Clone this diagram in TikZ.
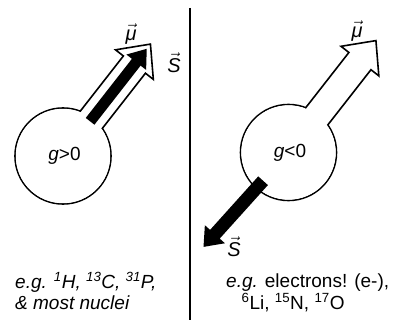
\documentclass[tikz,border=0pt]{standalone}
\usepackage{fontspec}
\setmainfont{Liberation Sans}
\tikzset{
  outl/.style={line width=1.6pt, draw=black, fill=white, line join=miter},
  lbl/.style={inner sep=0pt, font=\fontsize{20}{22}\selectfont},
  txt/.style={inner sep=0pt, anchor=base west, font=\fontsize{19}{20}\selectfont},
  gtxt/.style={inner sep=0pt, anchor=base, font=\fontsize{19}{21}\selectfont},
}
\newcommand\hollowarrowat[3]{%
  \begin{scope}[shift={(#1,#2)}, rotate=#3]
    \draw[outl] (20,-14) -- (116,-14) -- (116,-24) -- (142,0) -- (116,24) -- (116,14) -- (20,14) -- cycle;
  \end{scope}}
\newcommand\blackarrowat[9]{%
  % cx, cy, angle, start, halfshaft, headbase, halfhead, tip
  \begin{scope}[shift={(#1,#2)}, rotate=#3]
    \fill[black] (#4,-#5) -- (#6,-#5) -- (#6,-#7) -- (#8,0) -- (#6,#7) -- (#6,#5) -- (#4,#5) -- cycle;
  \end{scope}}
\begin{document}
\begin{tikzpicture}[x=1pt,y=1pt]
\useasboundingbox (0,0) rectangle (398,-320);
\fill[white] (0,0) rectangle (398,-320);
% divider
\draw[line width=1.3pt] (190,-8) -- (190,-320);
% left particle
\draw[outl] (63,-156) circle (48);
\hollowarrowat{63}{-156}{52}
\fill[white] (63,-156) circle (47.2);
\blackarrowat{63}{-156}{52}{44}{5.5}{119}{12.5}{136}{}
\node[gtxt] (g1) at (64.5,-161) {\textit{g}>0};
% right particle
\draw[outl] (288.5,-152.5) circle (48);
\hollowarrowat{288.5}{-152.5}{52}
\fill[white] (288.5,-152.5) circle (47.2);
\blackarrowat{288.5}{-152.5}{228}{38}{6.5}{110}{13.5}{127}{}
\node[gtxt] (g2) at (290,-158) {\textit{g}<0};
% vector labels
\node[lbl] (mu1) at (131,-34) {$\vec{\textit{μ}}$};
\node[lbl] (s1) at (174,-63) {$\vec{\textit{S}}$};
\node[lbl] (mu2) at (357,-31) {$\vec{\textit{μ}}$};
\node[lbl] (s2) at (234,-247) {$\vec{\textit{S}}$};
% bottom texts
\node[txt] (l1) at (15,-288) {\itshape e.g. \textsuperscript{1}H, \textsuperscript{13}C, \textsuperscript{31}P,};
\node[txt] (l2) at (15,-309) {\itshape \& most nuclei};
\node[txt] (r1) at (226,-287.5) {\textit{e.g.} electrons! (e-),};
\node[txt] (r2) at (241.5,-309) {\textsuperscript{6}Li, \textsuperscript{15}N, \textsuperscript{17}O};
\end{tikzpicture}
\end{document}
